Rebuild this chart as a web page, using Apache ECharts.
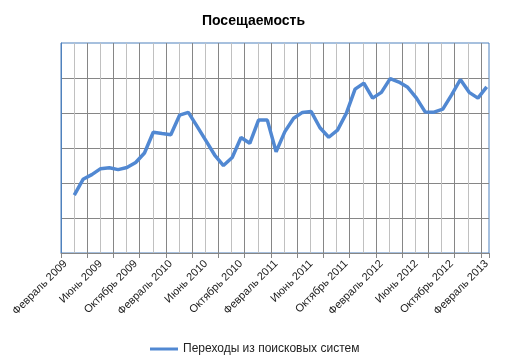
<!DOCTYPE html>
<html>
<head>
<meta charset="utf-8">
<script src="https://cdn.jsdelivr.net/npm/echarts@6/dist/echarts.min.js"></script>
<style>
  html, body { margin: 0; padding: 0; background: #fff; }
  #chart { width: 507px; height: 363px; }
</style>
</head>
<body>
<div id="chart"></div>
<script>
// Month names and category list (Feb 2009 .. Feb 2013)
const monthNames = ['Январь','Февраль','Март','Апрель','Май','Июнь','Июль','Август','Сентябрь','Октябрь','Ноябрь','Декабрь'];
const categories = [];
for (let y = 2009; y <= 2013; y++) {
  for (let m = 0; m < 12; m++) {
    if (y === 2009 && m < 1) continue;
    if (y === 2013 && m > 1) continue;
    categories.push(monthNames[m] + ' ' + y);
  }
}
const seriesName = 'Переходы из поисковых систем';
// Values (arbitrary units; no y labels in the original). First month has no point.
const visits = [null,
  1653, 2106, 2238, 2410, 2436, 2381, 2441, 2585, 2857, 3450,
  3415, 3381, 3937, 4017, 3616, 3209, 2799, 2499, 2728, 3301,
  3135, 3797, 3797, 2894, 3467, 3851, 4017, 4040, 3579, 3307,
  3510, 3989, 4682, 4854, 4424, 4590, 4983, 4883, 4733, 4424,
  4026, 4023, 4109, 4519, 4957, 4590, 4424, 4748
];
const titleText = 'Посещаемость';

const chart = echarts.init(document.getElementById('chart'), null, { renderer: 'canvas' });
const dark = '#868686', light = '#c0c0c0', blue = '#4f81bd';
chart.setOption({
  animation: false,
  backgroundColor: '#fff',
  title: {
    text: titleText, left: 'center', top: 9,
    textStyle: { fontFamily: 'Liberation Sans', fontSize: 14, fontWeight: 'bold', color: '#000' }
  },
  legend: {
    data: [seriesName], left: 145, top: 338, icon: 'rect', itemWidth: 28, itemHeight: 3,
    textStyle: { fontFamily: 'Liberation Sans', fontSize: 12, color: '#222' }
  },
  grid: [
    { left: 65.5, right: 20.3, top: 43, bottom: 110 },
    { left: 61, right: 18, top: 43, bottom: 110, show: true, borderColor: blue, borderWidth: 1, backgroundColor: 'transparent' }
  ],
  xAxis: [
    {
      type: 'category', gridIndex: 0, data: categories, boundaryGap: false,
      axisLine: { show: false }, axisTick: { show: false }, splitLine: { show: false },
      axisLabel: { interval: 3, rotate: 45, margin: 9, fontFamily: 'Liberation Sans', fontSize: 11, color: '#222' }
    },
    {
      type: 'value', gridIndex: 1, min: 0, max: 16.305, interval: 1,
      axisLabel: { show: false },
      axisLine: { show: true, lineStyle: { color: dark } },
      axisTick: { show: true, length: 5, lineStyle: { color: dark } },
      splitLine: { show: true, showMinLine: false, showMaxLine: false, lineStyle: { color: dark } },
      minorTick: { show: false, splitNumber: 2 },
      minorSplitLine: { show: true, lineStyle: { color: light } }
    }
  ],
  yAxis: [
    { type: 'value', gridIndex: 0, min: 0, max: 6000, show: false },
    {
      type: 'value', gridIndex: 1, min: 0, max: 6, interval: 1,
      axisLabel: { show: false }, axisTick: { show: false },
      axisLine: { show: true, lineStyle: { color: blue } },
      splitLine: { show: true, showMinLine: false, showMaxLine: false, lineStyle: { color: dark } }
    }
  ],
  series: [{
    name: seriesName, type: 'line', xAxisIndex: 0, yAxisIndex: 0,
    data: visits, symbol: 'none', showSymbol: false,
    lineStyle: { width: 3.5, color: '#5188d2' }, itemStyle: { color: '#5188d2' },
    z: 5
  }]
});
</script>
</body>
</html>
